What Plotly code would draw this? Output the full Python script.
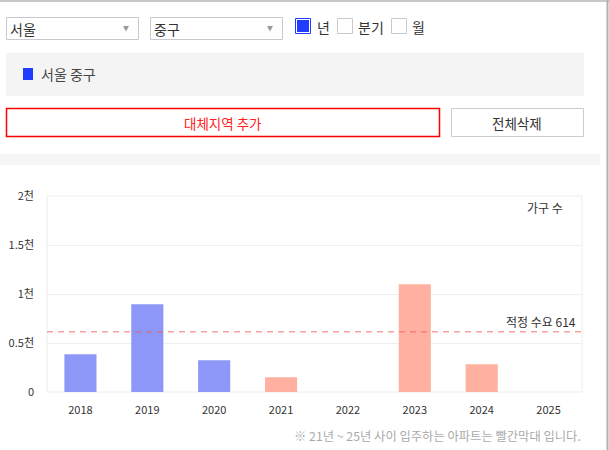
import plotly.graph_objects as go

# ---- data ----
years = ["2018", "2019", "2020", "2021", "2022", "2023", "2024", "2025"]
households = [385, 896, 324, 150, 0, 1100, 283, 0]
future_start = 2021
demand = 614
y_tickvals = [0, 500, 1000, 1500, 2000]
y_ticktext = ["0", "0.5천", "1천", "1.5천", "2천"]

W, H = 609, 450
L, R, T, B = 47, 582, 196, 392
FONT = "Noto Sans CJK KR, Malgun Gothic, sans-serif"

BLUE = "#8c97f7"
RED = "#ffb0a0"
colors = [RED if int(y) >= future_start else BLUE for y in years]

def px(x):
    return (x - L) / (R - L)

def py(y):
    return (B - y) / (B - T)

fig = go.Figure()
fig.add_trace(go.Bar(x=years, y=households, marker=dict(color=colors, line=dict(width=0)),
                     hoverinfo="x+y"))

shapes = []
annotations = []

def rect(x0, y0, x1, y1, line="#c8c8d0", fill="rgba(0,0,0,0)", lw=1):
    shapes.append(dict(type="rect", xref="paper", yref="paper",
                       x0=px(x0), x1=px(x1), y0=py(y1), y1=py(y0),
                       line=dict(color=line, width=lw), fillcolor=fill, layer="below"))

def text(x, y, s, size=14, color="#333", xanchor="left"):
    annotations.append(dict(xref="paper", yref="paper", x=px(x), y=py(y), text=s,
                            showarrow=False, xanchor=xanchor, yanchor="middle",
                            font=dict(family=FONT, size=size, color=color)))

def tri(x0, x1, y0, y1, color="#9a9a9a"):
    xm = (x0 + x1) / 2
    path = f"M {px(x0)} {py(y0)} L {px(x1)} {py(y0)} L {px(xm)} {py(y1)} Z"
    shapes.append(dict(type="path", xref="paper", yref="paper", path=path,
                       fillcolor=color, line=dict(width=0)))

# page borders
shapes.append(dict(type="line", xref="paper", yref="paper", x0=px(0), x1=px(609), y0=py(1), y1=py(1),
                   line=dict(color="#c8c8c8", width=2)))
shapes.append(dict(type="line", xref="paper", yref="paper", x0=px(607.5), x1=px(607.5), y0=py(0), y1=py(450),
                   line=dict(color="#b0b0b0", width=2)))

# dropdowns
rect(6.5, 17.5, 138.5, 39.5)
text(8, 28.5, "서울")
tri(123, 129, 26, 31.5)
rect(150.5, 17.5, 282.5, 39.5)
text(152, 28.5, "중구")
tri(267, 273, 26, 31.5)

# checkboxes
rect(295.5, 18.5, 310.5, 33.5, line="#1f3cff", fill="#ffffff", lw=1)
rect(297, 20, 309, 32, line="#1f3cff", fill="#1f3cff", lw=0)
text(315, 27, "년")
rect(337.5, 18.5, 352.5, 33.5, line="#c8c8d0", fill="#ffffff")
text(356, 27, "분기")
rect(391.5, 18.5, 406.5, 33.5, line="#c8c8d0", fill="#ffffff")
text(410, 27, "월")

# legend box
rect(6, 53, 584, 96, line="#f4f4f4", fill="#f4f4f4", lw=0)
rect(23, 68, 33, 80, line="#1f3cff", fill="#1f3cff", lw=0)
text(39, 74.5, "서울 중구", size=14, color="#444")

# buttons
rect(6.5, 108.5, 439.5, 136.5, line="#ff0000", fill="#ffffff", lw=1.5)
text(223, 122.5, "대체지역 추가", size=13.5, color="#ff2020", xanchor="center")
rect(451.5, 108.5, 583.5, 136.5, line="#cccccc", fill="#ffffff")
text(517, 122.5, "전체삭제", size=13.5, color="#333", xanchor="center")

# band
rect(0, 154, 600, 165, line="#f4f4f4", fill="#f5f5f5", lw=0)

# chart frame
shapes.append(dict(type="rect", xref="paper", yref="paper", x0=0, x1=1, y0=0, y1=1,
                   line=dict(color="#ececec", width=1), layer="below"))

# demand line
shapes.append(dict(type="line", xref="paper", yref="y", x0=0, x1=1, y0=demand, y1=demand,
                   line=dict(color="rgba(240,90,90,0.85)", width=1, dash="6px,5px"), layer="above"))
annotations.append(dict(xref="paper", yref="y", x=px(578), y=demand, text=f"적정 수요 {demand}",
                        showarrow=False, xanchor="right", yanchor="bottom", yshift=0,
                        font=dict(family=FONT, size=12, color="#333")))
text(545, 207, "가구 수", size=12, color="#333", xanchor="center")
text(583, 436, "※ 21년 ~ 25년 사이 입주하는 아파트는 빨간막대 입니다.", size=12.3, color="#aaaaaa", xanchor="right")

fig.update_layout(
    width=W, height=H,
    margin=dict(l=L, r=W - R, t=T, b=H - B, pad=0, autoexpand=False),
    paper_bgcolor="#ffffff", plot_bgcolor="#ffffff",
    showlegend=False, bargap=0.52,
    font=dict(family=FONT, size=11, color="#333"),
    shapes=shapes, annotations=annotations,
    xaxis=dict(type="category", showgrid=False, zeroline=False, showline=False, automargin=False,
               ticks="", ticklabelstandoff=10, tickfont=dict(size=11, color="#333")),
    yaxis=dict(range=[0, 2000], tickvals=y_tickvals, ticktext=y_ticktext, automargin=False,
               showgrid=True, gridcolor="#eeeeee", gridwidth=1, zeroline=False, showline=False,
               ticks="", ticklabelstandoff=12, tickfont=dict(size=11, color="#333")),
)

fig.write_html("out.html")
